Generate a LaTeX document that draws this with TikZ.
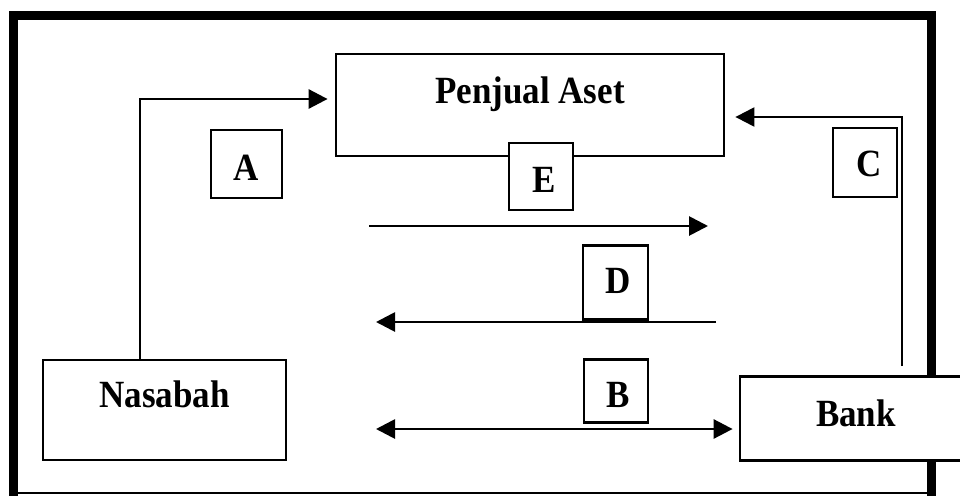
\documentclass[tikz,border=0pt]{standalone}
\usepackage{fontspec}
\setmainfont{Liberation Serif}
\usetikzlibrary{arrows.meta}
\begin{document}
\begin{tikzpicture}[x=1pt,y=-1pt,
  box/.style={draw,line width=2.8pt,fill=white,inner sep=0pt},
  txt/.style={font=\fontsize{35}{40}\selectfont\bfseries,inner sep=0pt,anchor=base},
  conn/.style={line width=2.8pt,-{Triangle[length=19pt,width=19pt]}},
  dconn/.style={line width=2.8pt,{Triangle[length=19pt,width=19pt]}-{Triangle[length=19pt,width=19pt]}}]
\clip (0,0) rectangle (960,495);
\fill[white] (0,0) rectangle (960,495);
% outer frame
\draw[line width=9pt] (13.5,500) -- (13.5,16) -- (931,16) -- (931,500);
\draw[line width=2pt] (13.5,493) -- (931,493);
% main boxes
\node[box,minimum width=388pt,minimum height=102pt] (penjual) at (530,105) {};
\node[box,minimum width=243pt,minimum height=100pt] (nas) at (164.5,410) {};
\node[box,minimum width=250pt,minimum height=84pt] (bank) at (865,418.5) {};
\node[txt] (tpenjual) at (530,103) {\scalebox{1}[1.1]{Penjual Aset}};
\node[txt] (tnas) at (164.5,407) {\scalebox{1}[1.1]{Nasabah}};
\node[txt] (tbank) at (856,426) {\scalebox{1}[1.1]{Bank}};
% connectors
\coordinate (a1) at (140,99);
\draw[conn,shorten >=7pt] (nas.north -| a1) |- (penjual.west |- a1);
\coordinate (c1) at (902,117);
\draw[conn,line width=2.3pt,shorten >=10pt,shorten <=9pt] (bank.north -| c1) |- (penjual.east |- c1);
\coordinate (e1) at (369,226);
\coordinate (e2) at (708,226);
\draw[conn] (e1) -- (e2);
\coordinate (d1) at (716,322);
\coordinate (d2) at (376,322);
\draw[conn] (d1) -- (d2);
\coordinate (b1) at (376,429);
\draw[dconn,shorten >=6pt] (b1) -- (bank.west |- b1);
% letter boxes
\node[box,minimum width=71pt,minimum height=68pt] (boxA) at (246.5,164) {};
\node[box,minimum width=64pt,minimum height=67pt] (boxE) at (541,176.5) {};
\node[box,minimum width=64pt,minimum height=69pt] (boxC) at (865,162.5) {};
\node[box,minimum width=65pt,minimum height=74pt] (boxD) at (615.5,282.5) {};
\node[box,minimum width=64pt,minimum height=63pt] (boxB) at (616,391) {};
\node[txt] (lA) at (246.5,180) {\scalebox{1}[1.1]{A}};
\node[txt] (lE) at (544,192) {\scalebox{1}[1.1]{E}};
\node[txt] (lC) at (869.5,176) {\scalebox{1}[1.1]{C}};
\node[txt] (lD) at (618,293) {\scalebox{1}[1.1]{D}};
\node[txt] (lB) at (618,407) {\scalebox{1}[1.1]{B}};
\draw[line width=2.8pt] (boxD.south west) -- (boxD.south east);
\end{tikzpicture}
\end{document}
